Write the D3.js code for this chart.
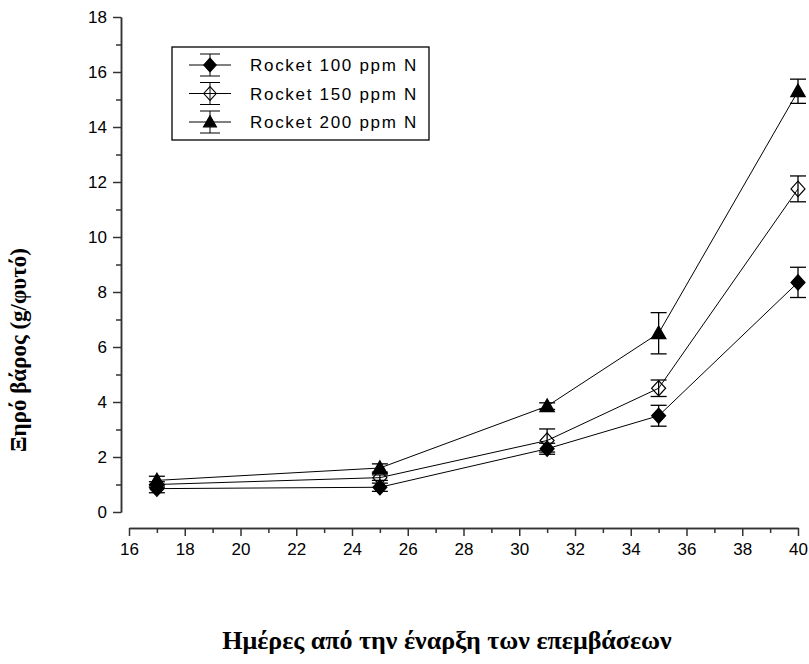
<!DOCTYPE html>
<html>
<head>
<meta charset="utf-8">
<title>Rocket dry weight</title>
<script src="https://cdn.jsdelivr.net/npm/d3@7"></script>
<style>
  body { margin: 0; background: #fff; }
  .tick text { font-family: "Liberation Sans", Arial, sans-serif; font-size: 17px; fill: #000; }
  .axis path, .axis line { stroke: #333; stroke-width: 1.5; }
  .title { font-family: "Liberation Serif", "Times New Roman", serif; font-weight: bold; fill: #000; }
  .legtext { font-family: "Liberation Sans", Arial, sans-serif; font-size: 17px; letter-spacing: 1.7px; }
</style>
</head>
<body>
<script>
// data
var days = [17, 25, 31, 35, 40];
var seriesNames = ["Rocket 100 ppm N", "Rocket 150 ppm N", "Rocket 200 ppm N"];
var dw100 = [0.85, 0.9, 2.3, 3.5, 8.35];
var err100 = [0.15, 0.15, 0.2, 0.38, 0.55];
var dw150 = [1.0, 1.25, 2.6, 4.5, 11.75];
var err150 = [0.1, 0.1, 0.42, 0.3, 0.47];
var dw200 = [1.15, 1.6, 3.85, 6.5, 15.3];
var err200 = [0.15, 0.15, 0.12, 0.75, 0.44];
var xTicks = [16, 18, 20, 22, 24, 26, 28, 30, 32, 34, 36, 38, 40];
var yTicks = [0, 2, 4, 6, 8, 10, 12, 14, 16, 18];

var w = 809, h = 664;
var svg = d3.select('body').append('svg').attr('width', w).attr('height', h);

var x = d3.scaleLinear().domain([16, 40]).range([129, 798]);
var y = d3.scaleLinear().domain([0, 18]).range([512, 17]);

// axes - major + minor ticks
var yMinor = yTicks.slice(0, -1).map(function(d) { return d + 1; });
var xMinor = xTicks.slice(0, -1).map(function(d) { return d + 1; });

svg.append('g').attr('class', 'axis').attr('transform', 'translate(121,0)')
  .call(d3.axisLeft(y).tickValues(yMinor).tickSize(5).tickSizeOuter(0).tickFormat(''));
svg.append('g').attr('class', 'axis').attr('transform', 'translate(121,0)')
  .call(d3.axisLeft(y).tickValues(yTicks).tickSize(8).tickSizeOuter(0).tickPadding(6));
svg.append('g').attr('class', 'axis').attr('transform', 'translate(0,528)')
  .call(d3.axisBottom(x).tickValues(xMinor).tickSize(5).tickSizeOuter(0).tickFormat(''));
svg.append('g').attr('class', 'axis').attr('transform', 'translate(0,528)')
  .call(d3.axisBottom(x).tickValues(xTicks).tickSize(8).tickSizeOuter(0).tickPadding(7));

// markers
var diamond = { draw: function(ctx, size) {
  var r = Math.sqrt(size) / 2;
  ctx.moveTo(0, -r * 1.1); ctx.lineTo(r, 0); ctx.lineTo(0, r * 1.1); ctx.lineTo(-r, 0); ctx.closePath();
}};
var triangle = { draw: function(ctx, size) {
  var r = Math.sqrt(size) / 2;
  ctx.moveTo(0, -r); ctx.lineTo(r, r * 0.75); ctx.lineTo(-r, r * 0.75); ctx.closePath();
}};
var series = [
  { name: seriesNames[0], vals: dw100, errs: err100, sym: diamond, fill: '#000', size: 196 },
  { name: seriesNames[1], vals: dw150, errs: err150, sym: diamond, fill: 'none', size: 196 },
  { name: seriesNames[2], vals: dw200, errs: err200, sym: triangle, fill: '#000', size: 210 }
];

var line = d3.line().x(function(d) { return x(d.x); }).y(function(d) { return y(d.v); });

series.forEach(function(s) {
  var pts = days.map(function(d, i) { return { x: d, v: s.vals[i], e: s.errs[i] }; });
  svg.append('path').datum(pts).attr('d', line)
    .attr('fill', 'none').attr('stroke', '#000').attr('stroke-width', 1);
  var g = svg.append('g');
  var eb = g.selectAll('g.eb').data(pts).enter().append('g');
  eb.append('line')
    .attr('x1', function(d) { return x(d.x); }).attr('x2', function(d) { return x(d.x); })
    .attr('y1', function(d) { return y(d.v + d.e); }).attr('y2', function(d) { return y(d.v - d.e); })
    .attr('stroke', '#000').attr('stroke-width', 1.3);
  [1, -1].forEach(function(sg) {
    eb.append('line')
      .attr('x1', function(d) { return x(d.x) - 8; }).attr('x2', function(d) { return x(d.x) + 8; })
      .attr('y1', function(d) { return y(d.v + sg * d.e); }).attr('y2', function(d) { return y(d.v + sg * d.e); })
      .attr('stroke', '#000').attr('stroke-width', 1.3);
  });
  g.selectAll('path.m').data(pts).enter().append('path')
    .attr('d', d3.symbol().type(s.sym).size(s.size))
    .attr('transform', function(d) { return 'translate(' + x(d.x) + ',' + y(d.v) + ')'; })
    .attr('fill', s.fill).attr('stroke', '#000').attr('stroke-width', 1.2);
});

// legend
var leg = svg.append('g').attr('transform', 'translate(172,47)');
leg.append('rect').attr('width', 257).attr('height', 93)
  .attr('fill', '#fff').attr('stroke', '#000').attr('stroke-width', 1.3);
series.forEach(function(s, i) {
  var cy = 18 + i * 28.5, cx = 38;
  var r = leg.append('g');
  r.append('line').attr('x1', cx - 21).attr('x2', cx + 21).attr('y1', cy).attr('y2', cy).attr('stroke', '#000');
  r.append('line').attr('x1', cx).attr('x2', cx).attr('y1', cy - 11).attr('y2', cy + 11).attr('stroke', '#000');
  r.append('line').attr('x1', cx - 10).attr('x2', cx + 10).attr('y1', cy - 11).attr('y2', cy - 11).attr('stroke', '#000');
  r.append('line').attr('x1', cx - 10).attr('x2', cx + 10).attr('y1', cy + 11).attr('y2', cy + 11).attr('stroke', '#000');
  r.append('path').attr('d', d3.symbol().type(s.sym).size(s.size * 0.8))
    .attr('transform', 'translate(' + cx + ',' + cy + ')')
    .attr('fill', s.fill).attr('stroke', '#000').attr('stroke-width', 1.1);
  r.append('text').attr('class', 'legtext').attr('x', 78).attr('y', cy + 6).text(s.name);
});

// axis titles
svg.append('text').attr('class', 'title').attr('x', 447).attr('y', 649)
  .attr('text-anchor', 'middle').attr('font-size', 26).text('Ημέρες από την έναρξη των επεμβάσεων');
svg.append('text').attr('class', 'title').attr('transform', 'translate(26,350)rotate(-90)')
  .attr('text-anchor', 'middle').attr('font-size', 23).text('Ξηρό βάρος (g/φυτό)');
</script>
</body>
</html>
